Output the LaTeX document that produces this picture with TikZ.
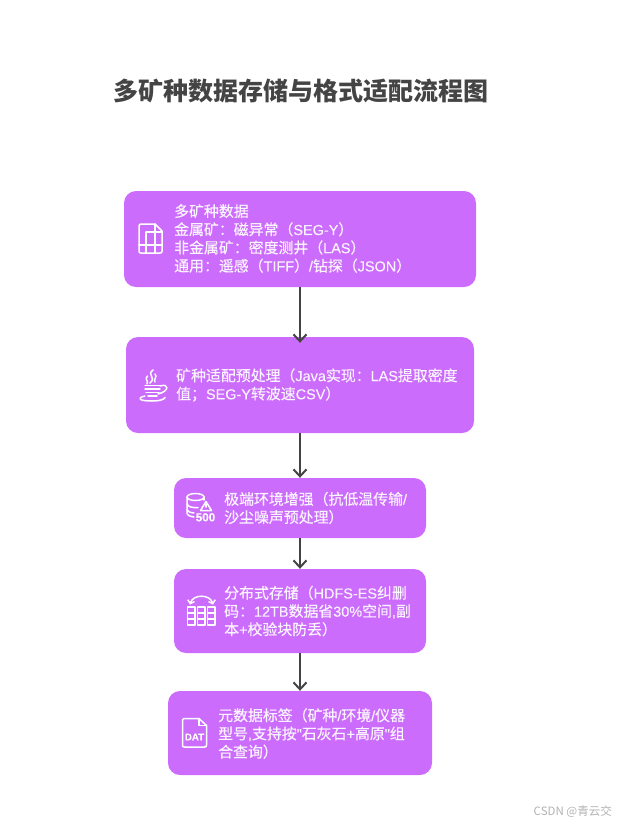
\documentclass[tikz,border=0pt]{standalone}
\usepackage{fontspec}
\usepackage{xcolor}
\usetikzlibrary{arrows.meta}
\setmainfont[FakeBold=0.35]{Noto Sans CJK SC}
\newfontfamily\latfont[FakeBold=0.2,Scale=0.97]{Liberation Sans}
\newfontfamily\titlefont{Noto Sans CJK SC}
\newfontfamily\markfont{Noto Sans CJK SC}
\newcommand{\lat}[1]{{\latfont #1}}
\definecolor{boxfill}{HTML}{CB6CFC}
\definecolor{inkgray}{HTML}{444444}
\tikzset{
	stepbox/.style={fill=boxfill,rounded corners=12pt,inner sep=0pt},
	steptext/.style={anchor=west,text=white!92!boxfill,align=left,inner sep=0pt,font=\fontsize{14.9}{18.2}\selectfont},
	flowarrow/.style={draw=inkgray,line width=2pt,-{Straight Barb[length=7pt,width=13pt,line width=2pt]}},
	iconline/.style={draw=white,line width=1.5pt,line join=round,line cap=round}
}
\begin{document}
\begin{tikzpicture}[x=1pt,y=-1pt]
	\useasboundingbox (0,0) rectangle (618,823);
	\node[anchor=west,text=inkgray,inner sep=0pt,font=\fontsize{25}{30}\selectfont\titlefont\bfseries] (title) at (113,91) {多矿种数据存储与格式适配流程图};
	% boxes
	\node[stepbox,minimum width=352pt,minimum height=96pt] (minedata) at (300,239) {};
	\node[stepbox,minimum width=348pt,minimum height=96pt] (prepare) at (300,385) {};
	\node[stepbox,minimum width=252pt,minimum height=60pt] (enhance) at (300,508) {};
	\node[stepbox,minimum width=252pt,minimum height=84pt] (storage) at (300,611) {};
	\node[stepbox,minimum width=264pt,minimum height=84pt] (metadata) at (300,733) {};
	% texts
	\node[steptext] (minedatatext) at (174,238.5) {多矿种数据\\金属矿：磁异常（\lat{SEG-Y}）\\非金属矿：密度测井（\lat{LAS}）\\通用：遥感（\lat{TIFF}）\lat{/}钻探（\lat{JSON}）};
	\node[steptext] (preparetext) at (176,385) {矿种适配预处理（\lat{Java}实现：\lat{LAS}提取密度\\值；\lat{SEG-Y}转波速\lat{CSV}）};
	\node[steptext] (enhancetext) at (224,508) {极端环境增强（抗低温传输\lat{/}\\沙尘噪声预处理）};
	\node[steptext] (storagetext) at (224,611) {分布式存储（\lat{HDFS-ES}纠删\\码：\lat{12TB}数据省\lat{30\%}空间\lat{,}副\\本\lat{+}校验块防丢）};
	\node[steptext] (metadatatext) at (218,733.5) {元数据标签（矿种\lat{/}环境\lat{/}仪器\\型号\lat{,}支持按\lat{"}石灰石\lat{+}高原\lat{"}组\\合查询）};
	% arrows
	\draw[flowarrow,shorten >=-6pt] (minedata) -- (prepare);
	\draw[flowarrow] (prepare) -- (enhance);
	\draw[flowarrow] (enhance) -- (storage);
	\draw[flowarrow] (storage) -- (metadata);
	% file icon
	\draw[iconline] (140.5,224) -- (155,224) -- (162,231) -- (162,251) .. controls (162,252.5) and (161.5,253) .. (160,253) -- (141,253) .. controls (139.5,253) and (139,252.5) .. (139,251) -- (139,225.5) .. controls (139,224.5) and (139.5,224) .. (140.5,224);
	\draw[iconline] (146,232) -- (146,253) (155,224) -- (155,253) (146,232) -- (162,232) (139,245) -- (162,245);
	% java icon
	\draw[iconline] (153,370) .. controls (146,375) and (157,377) .. (150,383);
	\draw[iconline] (147.5,376) .. controls (144,379) and (149,381) .. (147,384);
	\draw[iconline] (155,374) .. controls (158,377) and (153,379) .. (155,382);
	\draw[iconline] (145,385.5) -- (160,385.5) (145,389) -- (160,389) (146,392.5) -- (159,392.5) (148,396) -- (157,396);
	\draw[iconline] (160,386) .. controls (169,383) and (170,391) .. (158,394);
	\draw[iconline] (145,396) .. controls (136,398) and (139,401) .. (152,401) .. controls (160,401) and (164,399.5) .. (165,397.5);
	% database icon
	\draw[iconline] (187,497) arc [start angle=180, end angle=360, x radius=8.5, y radius=3.5];
	\draw[iconline] (187,497) arc [start angle=180, end angle=0, x radius=8.5, y radius=3.5];
	\draw[iconline] (187,497) -- (187,513) .. controls (187,515) and (190,516.5) .. (194,517);
	\draw[iconline] (204,497) -- (204,500);
	\draw[iconline] (187,504) .. controls (188,507) and (193,508) .. (198,507.5);
	\draw[iconline] (187,510) .. controls (188,512) and (191,513) .. (194,513);
	\draw[iconline] (206,501.5) -- (200.5,510.5) -- (211.5,510.5) -- cycle;
	\draw[iconline] (206,504.5) -- (206,507);
	\node[text=white,inner sep=0pt,font=\fontsize{12}{12}\selectfont\latfont\bfseries] (overload) at (205.5,517.3) {500};
	% storage icon
	\foreach \colx in {187.5,197.5,207.5}{
		\draw[iconline] (\colx,607) rectangle ++(7.5,18);
		\draw[iconline] (\colx,613) -- ++(7.5,0) (\colx,619) -- ++(7.5,0);
	}
	\draw[iconline,{Straight Barb[length=3pt,width=7pt]}-{Straight Barb[length=3pt,width=7pt]}] (190,604.5) .. controls (193,594) and (210,594) .. (213,604.5);
	% dat icon
	\draw[iconline] (184,718.5) -- (199,718.5) -- (206.5,725.5) -- (206.5,745) .. controls (206.5,746.5) and (206,747) .. (204.5,747) -- (184.5,747) .. controls (183,747) and (182.5,746.5) .. (182.5,745) -- (182.5,720) .. controls (182.5,719) and (183,718.5) .. (184,718.5);
	\draw[iconline] (199,718.5) -- (199,725.5) -- (206.5,725.5);
	\node[text=white,inner sep=0pt,font=\fontsize{10}{10}\selectfont\latfont\bfseries] (dattag) at (194.5,737) {DAT};
	% watermark
	\node[anchor=east,text=black!30,inner sep=0pt,font=\fontsize{11.5}{12}\selectfont\markfont] (mark) at (612,812) {CSDN @青云交};
\end{tikzpicture}
\end{document}
